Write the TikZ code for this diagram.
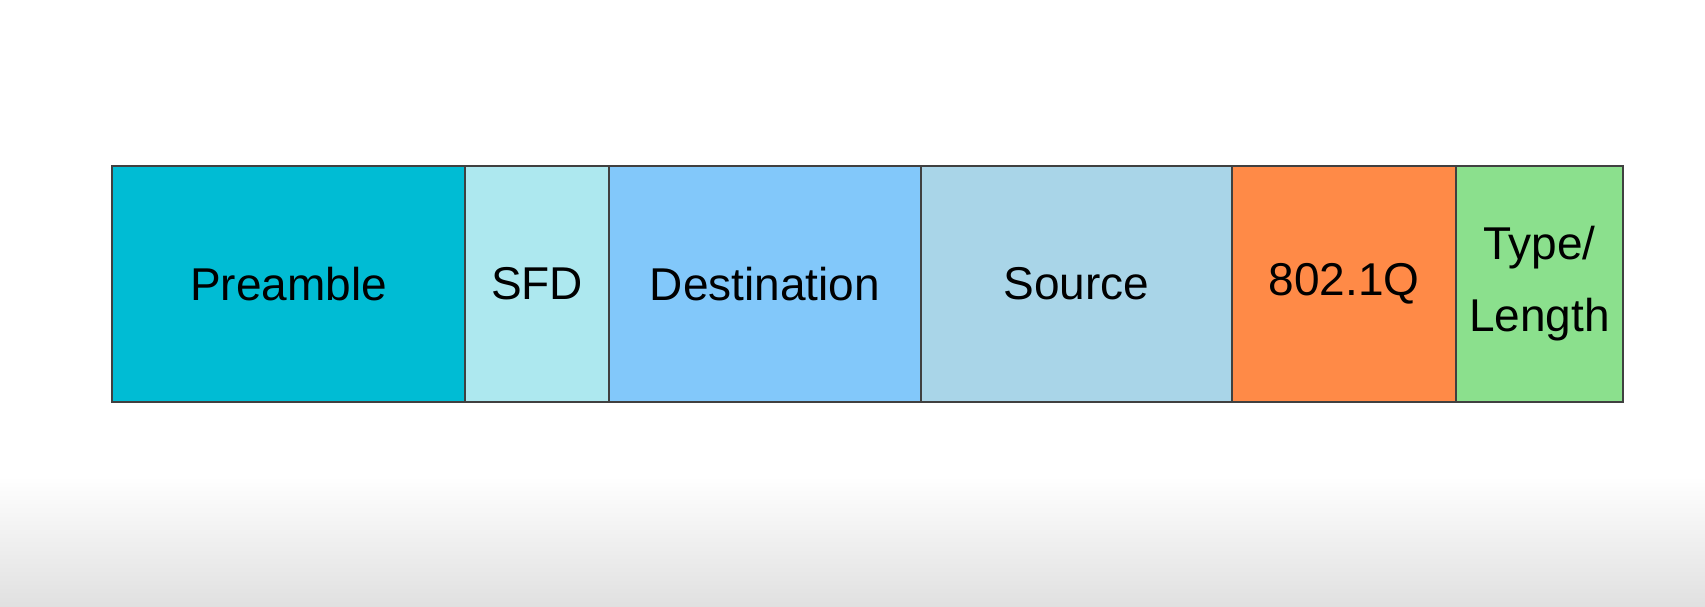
\documentclass[tikz,border=0pt]{standalone}
\usepackage{fontspec}
\setmainfont{Liberation Sans}
\usetikzlibrary{positioning}
\definecolor{preamblec}{HTML}{00BCD4}
\definecolor{sfdc}{HTML}{ADE8EF}
\definecolor{destc}{HTML}{82C8FA}
\definecolor{srcc}{HTML}{A9D5E8}
\definecolor{vlanc}{HTML}{FF8A47}
\definecolor{typec}{HTML}{8BE08D}
\begin{document}
\begin{tikzpicture}[x=0.5pt,y=-0.5pt,
   fld/.style={draw=black!75,line width=0.6pt,minimum height=118pt,outer sep=0pt,inner sep=0pt,
     align=center,font=\fontsize{23}{36}\selectfont}]
  % page and grey fade at the bottom
  \fill[white] (0,0) rectangle (1705,606);
  \useasboundingbox (0,0) rectangle (1705,606);
  \fill[top color=white,bottom color=black!12,draw=none] (0,476) rectangle (1705,606);
  % frame fields
  \node[fld,fill=preamblec,minimum width=176.5pt,anchor=west] (pre) at (112,284) {Preamble};
  \node[fld,fill=sfdc,minimum width=72pt,right=0pt of pre] (sfd) {SFD};
  \node[fld,fill=destc,minimum width=156pt,right=0pt of sfd] (dst) {Destination};
  \node[fld,fill=srcc,minimum width=155.5pt,right=0pt of dst] (src) {Source};
  \node[fld,fill=vlanc,minimum width=112pt,right=0pt of src] (tag) {802.1Q};
  \node[fld,fill=typec,minimum width=83.5pt,right=0pt of tag] (typ) {Type/\\Length};
\end{tikzpicture}
\end{document}
